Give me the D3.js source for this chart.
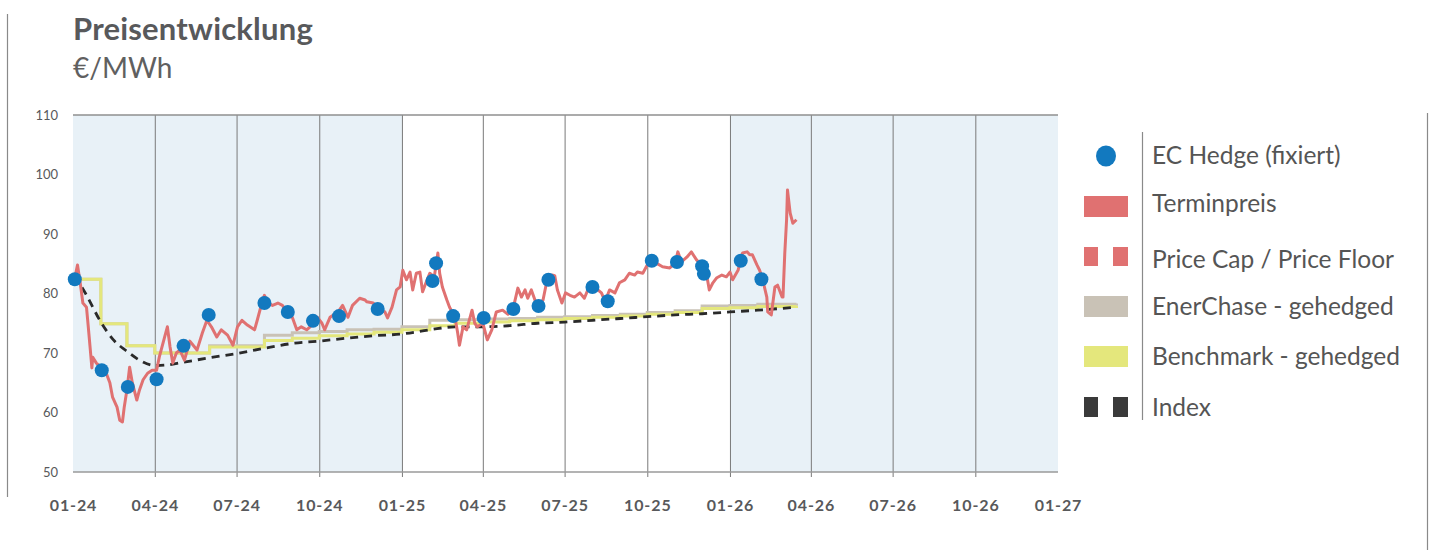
<!DOCTYPE html>
<html><head><meta charset="utf-8">
<script src="https://cdn.jsdelivr.net/npm/d3@7"></script>
<style>
html,body{margin:0;padding:0;background:#fff;}
svg{display:block;font-family:Lato,"Open Sans",sans-serif;}
</style></head>
<body><svg id="c" width="1432" height="553"></svg>
<script>
const title = "Preisentwicklung";
const unit = "€/MWh";
const yTicks = [50,60,70,80,90,100,110];
const xTickDates = ["2024-01-01","2024-04-01","2024-07-01","2024-10-01","2025-01-01","2025-04-01","2025-07-01","2025-10-01","2026-01-01","2026-04-01","2026-07-01","2026-10-01","2027-01-01"];
const shadedYears = [["2024-01-01","2025-01-01"],["2026-01-01","2027-01-01"]];

const terminDates = ["2024-01-03","2024-01-06","2024-01-09","2024-01-12","2024-01-16","2024-01-18","2024-01-20","2024-01-22","2024-01-23","2024-01-27","2024-02-02","2024-02-07","2024-02-11","2024-02-14","2024-02-19","2024-02-22","2024-02-25","2024-02-27","2024-03-01","2024-03-04","2024-03-07","2024-03-12","2024-03-15","2024-03-19","2024-03-24","2024-03-29","2024-04-03","2024-04-06","2024-04-12","2024-04-15","2024-04-18","2024-04-21","2024-04-25","2024-04-29","2024-05-04","2024-05-10","2024-05-18","2024-05-24","2024-05-29","2024-06-03","2024-06-09","2024-06-14","2024-06-21","2024-06-27","2024-07-02","2024-07-07","2024-07-13","2024-07-21","2024-07-24","2024-07-30","2024-08-01","2024-08-05","2024-08-10","2024-08-16","2024-08-21","2024-08-26","2024-09-01","2024-09-06","2024-09-11","2024-09-17","2024-09-23","2024-09-29","2024-10-04","2024-10-07","2024-10-13","2024-10-22","2024-10-27","2024-11-02","2024-11-07","2024-11-15","2024-11-21","2024-11-23","2024-11-30","2024-12-05","2024-12-13","2024-12-16","2024-12-21","2024-12-26","2024-12-30","2025-01-02","2025-01-06","2025-01-10","2025-01-13","2025-01-17","2025-01-21","2025-01-24","2025-01-29","2025-02-01","2025-02-06","2025-02-10","2025-02-12","2025-02-15","2025-02-20","2025-02-23","2025-03-01","2025-03-04","2025-03-06","2025-03-10","2025-03-14","2025-03-20","2025-03-23","2025-03-26","2025-04-01","2025-04-06","2025-04-11","2025-04-16","2025-04-23","2025-04-29","2025-05-04","2025-05-10","2025-05-14","2025-05-18","2025-05-21","2025-05-25","2025-05-29","2025-06-01","2025-06-07","2025-06-11","2025-06-17","2025-06-20","2025-06-23","2025-06-28","2025-07-02","2025-07-07","2025-07-12","2025-07-18","2025-07-23","2025-07-29","2025-08-03","2025-08-11","2025-08-15","2025-08-20","2025-08-26","2025-08-31","2025-09-06","2025-09-11","2025-09-17","2025-09-20","2025-09-26","2025-10-01","2025-10-06","2025-10-11","2025-10-18","2025-10-26","2025-11-01","2025-11-04","2025-11-08","2025-11-14","2025-11-19","2025-11-25","2025-12-01","2025-12-04","2025-12-07","2025-12-09","2025-12-13","2025-12-17","2025-12-23","2025-12-28","2026-01-01","2026-01-04","2026-01-10","2026-01-15","2026-01-20","2026-01-23","2026-01-26","2026-01-31","2026-02-03","2026-02-06","2026-02-11","2026-02-12","2026-02-16","2026-02-20","2026-02-23","2026-02-28","2026-03-01","2026-03-03","2026-03-05","2026-03-06","2026-03-09","2026-03-12","2026-03-16"];
const terminValues = [82.6,84.8,81.8,78.4,77.7,74.4,71.0,67.5,69.3,68.3,67.5,66.6,65.0,62.6,60.9,58.7,58.4,60.9,63.8,67.6,65.0,62.1,63.8,65.5,66.6,67.1,67.1,69.3,72.7,74.4,71.0,68.3,70.0,70.5,68.8,72.0,70.5,73.4,75.5,74.4,72.7,73.9,73.0,71.3,74.4,75.5,74.7,73.9,75.5,78.9,79.7,78.4,78.0,78.4,78.0,76.9,76.0,73.9,74.4,73.9,74.7,76.0,75.0,73.9,76.0,76.9,78.0,76.0,78.0,79.2,78.9,78.6,78.4,77.4,76.9,75.9,77.7,80.6,81.1,83.9,82.3,83.6,80.6,83.4,83.6,80.3,82.3,83.4,82.8,86.8,83.4,81.1,78.9,77.7,76.0,73.4,71.3,74.4,73.9,77.2,75.0,74.4,75.0,72.2,73.9,76.9,77.2,76.5,77.0,80.9,79.4,80.6,79.2,80.6,78.9,78.0,78.9,81.9,83.1,83.0,80.6,78.4,80.1,79.7,79.4,80.1,79.2,81.4,81.1,80.1,78.7,80.6,80.1,81.8,82.3,83.4,83.1,83.6,83.4,84.8,85.5,85.1,84.5,84.3,85.1,87.0,85.3,86.1,87.0,85.6,84.8,83.4,82.3,80.6,81.8,82.6,83.1,82.8,83.6,82.3,83.9,86.8,87.0,86.5,86.5,84.8,83.9,82.6,79.4,76.9,76.4,81.1,81.4,79.4,79.4,86.8,92.4,97.4,93.5,91.8,92.4];

const hedgeDates = ["2024-01-03","2024-02-02","2024-03-02","2024-04-03","2024-05-03","2024-05-31","2024-08-01","2024-08-27","2024-09-24","2024-10-23","2024-12-05","2025-02-04","2025-02-08","2025-02-27","2025-04-02","2025-05-05","2025-06-02","2025-06-13","2025-08-01","2025-08-18","2025-10-06","2025-11-03","2025-12-01","2025-12-03","2026-01-13","2026-02-05"];
const hedgeValues = [82.4,67.1,64.3,65.6,71.2,76.4,78.4,76.9,75.4,76.2,77.4,82.1,85.1,76.2,75.9,77.4,77.9,82.3,81.1,78.7,85.5,85.3,84.6,83.3,85.5,82.4];

const stepDates = ["2024-01-03","2024-02-01","2024-03-01","2024-04-01","2024-06-01","2024-08-01","2024-09-01","2024-10-01","2024-11-01","2024-12-01","2025-01-01","2025-02-01","2025-03-01","2025-04-01","2025-05-01","2025-06-01","2025-07-01","2025-08-01","2025-09-01","2025-10-01","2025-11-01","2025-12-01","2026-01-01","2026-02-01","2026-03-16"];
const enerChaseValues = [82.4,74.9,71.2,70.0,71.2,73.0,73.4,73.6,73.9,74.0,74.4,75.5,75.6,75.7,75.8,76.0,76.1,76.3,76.5,76.8,77.1,77.9,78.0,78.2,78.3];
const benchmarkValues = [82.4,74.9,71.2,70.0,71.0,72.1,72.5,72.9,73.2,73.5,73.9,74.6,75.0,75.2,75.4,75.6,75.8,76.0,76.2,76.5,76.8,77.5,77.6,77.8,77.9];

const indexDates = ["2024-01-03","2024-01-15","2024-02-01","2024-02-15","2024-03-01","2024-03-15","2024-04-01","2024-04-15","2024-05-01","2024-06-01","2024-07-01","2024-08-01","2024-09-01","2024-10-01","2024-11-01","2024-12-01","2025-01-01","2025-02-01","2025-03-01","2025-04-01","2025-05-01","2025-06-01","2025-07-01","2025-08-01","2025-09-01","2025-10-01","2025-11-01","2025-12-01","2026-01-01","2026-02-01","2026-03-16"];
const indexValues = [83.0,80.0,75.2,72.2,70.3,68.8,67.9,68.0,68.4,69.2,69.9,70.8,71.6,72.0,72.5,72.9,73.2,73.9,74.4,74.4,74.6,75.0,75.2,75.5,75.8,76.1,76.4,76.6,76.9,77.2,77.7];

const legendLabels = ["EC Hedge (fixiert)","Terminpreis","Price Cap / Price Floor","EnerChase - gehedged","Benchmark - gehedged","Index"];

const C = {blue:"#1279bf", red:"#e07171", gray:"#c9c2b6", yellow:"#e4e77c", dark:"#3a3a3a", text:"#58595b", band:"#e8f1f7", grid:"#7a7a7a"};

const parse = d3.timeParse("%Y-%m-%d");
const svg = d3.select("#c");
const L = 73, R = 1058, T = 115, B = 472;
const x = d3.scaleTime().domain([parse("2024-01-01"), parse("2027-01-01")]).range([L, R]);
const y = d3.scaleLinear().domain([50, 110]).range([B, T]);

// frame lines
svg.append("line").attr("x1",7.5).attr("x2",7.5).attr("y1",14).attr("y2",497).attr("stroke","#8a8a8a").attr("stroke-width",1.2);
svg.append("line").attr("x1",1427.5).attr("x2",1427.5).attr("y1",113).attr("y2",550).attr("stroke","#8a8a8a").attr("stroke-width",1.2);

// title
svg.append("text").attr("x",73).attr("y",40).attr("fill",C.text).attr("font-size",31).attr("font-weight",700).attr("letter-spacing","0.2px").text(title);
svg.append("text").attr("x",73).attr("y",78).attr("fill","#606060").attr("font-size",28).attr("font-weight",400).text(unit);

// bands
svg.selectAll("rect.band").data(shadedYears).join("rect").attr("class","band")
  .attr("x", d=>x(parse(d[0]))).attr("width", d=>x(parse(d[1]))-x(parse(d[0])))
  .attr("y", T).attr("height", B-T).attr("fill", C.band);

// x axis / grid
const xAxis = d3.axisBottom(x).tickValues(xTickDates.map(parse)).tickFormat(d3.timeFormat("%m-%y")).tickSize(B-T+5).tickSizeOuter(0);
const gx = svg.append("g").attr("transform",`translate(0,${T})`).call(xAxis);
gx.select(".domain").remove();
gx.selectAll(".tick line").attr("stroke",C.grid).attr("stroke-width",1);
gx.selectAll(".tick").filter((d,i)=>i===0||i===xTickDates.length-1).select("line").attr("stroke","none");
gx.selectAll(".tick text").attr("y", B-T+28).attr("fill",C.text).attr("font-size",16).attr("font-weight",700).attr("font-family","Lato, sans-serif").attr("letter-spacing","0.9px");

// top and bottom lines
svg.append("line").attr("x1",L).attr("x2",R).attr("y1",T).attr("y2",T).attr("stroke","#8f8f8f").attr("stroke-width",1.5);
svg.append("line").attr("x1",L).attr("x2",R).attr("y1",B).attr("y2",B).attr("stroke","#9a9a9a").attr("stroke-width",1.5);

// y axis labels
const yAxis = d3.axisLeft(y).tickValues(yTicks).tickSize(0);
const gy = svg.append("g").attr("transform",`translate(58,0)`).call(yAxis);
gy.select(".domain").remove();
gy.selectAll(".tick text").attr("x",0).attr("fill",C.text).attr("font-size",13).attr("font-family","Lato, sans-serif");

// series
const stepLine = d3.line().x(d=>x(d[0])).y(d=>y(d[1])).curve(d3.curveStepAfter);
const ener = stepDates.map((d,i)=>[parse(d), enerChaseValues[i]]);
const bench = stepDates.map((d,i)=>[parse(d), benchmarkValues[i]]);
svg.append("path").attr("d", stepLine(ener)).attr("fill","none").attr("stroke",C.gray).attr("stroke-width",3);
svg.append("path").attr("d", stepLine(bench)).attr("fill","none").attr("stroke",C.yellow).attr("stroke-width",3);

const idx = indexDates.map((d,i)=>[parse(d), indexValues[i]]);
svg.append("path").attr("d", d3.line().x(d=>x(d[0])).y(d=>y(d[1])).curve(d3.curveMonotoneX)(idx))
  .attr("fill","none").attr("stroke","#2a2a2a").attr("stroke-width",2.8).attr("stroke-dasharray","8,6");

const term = terminDates.map((d,i)=>[parse(d), terminValues[i]]);
svg.append("path").attr("d", d3.line().x(d=>x(d[0])).y(d=>y(d[1]))(term))
  .attr("fill","none").attr("stroke",C.red).attr("stroke-width",3).attr("stroke-linejoin","round");

svg.selectAll("circle.hedge").data(hedgeDates.map((d,i)=>[parse(d), hedgeValues[i]])).join("circle").attr("class","hedge")
  .attr("cx", d=>x(d[0])).attr("cy", d=>y(d[1])).attr("r",7).attr("fill",C.blue);

// legend
const lg = svg.append("g");
lg.append("line").attr("x1",1142.5).attr("x2",1142.5).attr("y1",132).attr("y2",420).attr("stroke","#8a8a8a").attr("stroke-width",1.2);
const ly = [155, 203, 259, 306, 356, 407];
lg.selectAll("text").data(legendLabels).join("text")
  .attr("x",1152).attr("y",(d,i)=>ly[i]).attr("dy","0.35em").attr("fill","#555").attr("font-size",24.5).attr("font-weight",400).text(d=>d);
lg.append("ellipse").attr("cx",1106).attr("cy",156).attr("rx",10).attr("ry",10.5).attr("fill",C.blue);
lg.append("rect").attr("x",1084).attr("y",196).attr("width",44).attr("height",21).attr("fill",C.red);
lg.append("rect").attr("x",1084).attr("y",247).attr("width",14).attr("height",19).attr("fill",C.red);
lg.append("rect").attr("x",1113).attr("y",247).attr("width",15).attr("height",19).attr("fill",C.red);
lg.append("rect").attr("x",1084).attr("y",296).attr("width",44).attr("height",21).attr("fill",C.gray);
lg.append("rect").attr("x",1084).attr("y",346).attr("width",44).attr("height",21).attr("fill",C.yellow);
lg.append("rect").attr("x",1084).attr("y",397).attr("width",14).attr("height",20).attr("fill",C.dark);
lg.append("rect").attr("x",1113).attr("y",397).attr("width",15).attr("height",20).attr("fill",C.dark);
</script></body></html>
